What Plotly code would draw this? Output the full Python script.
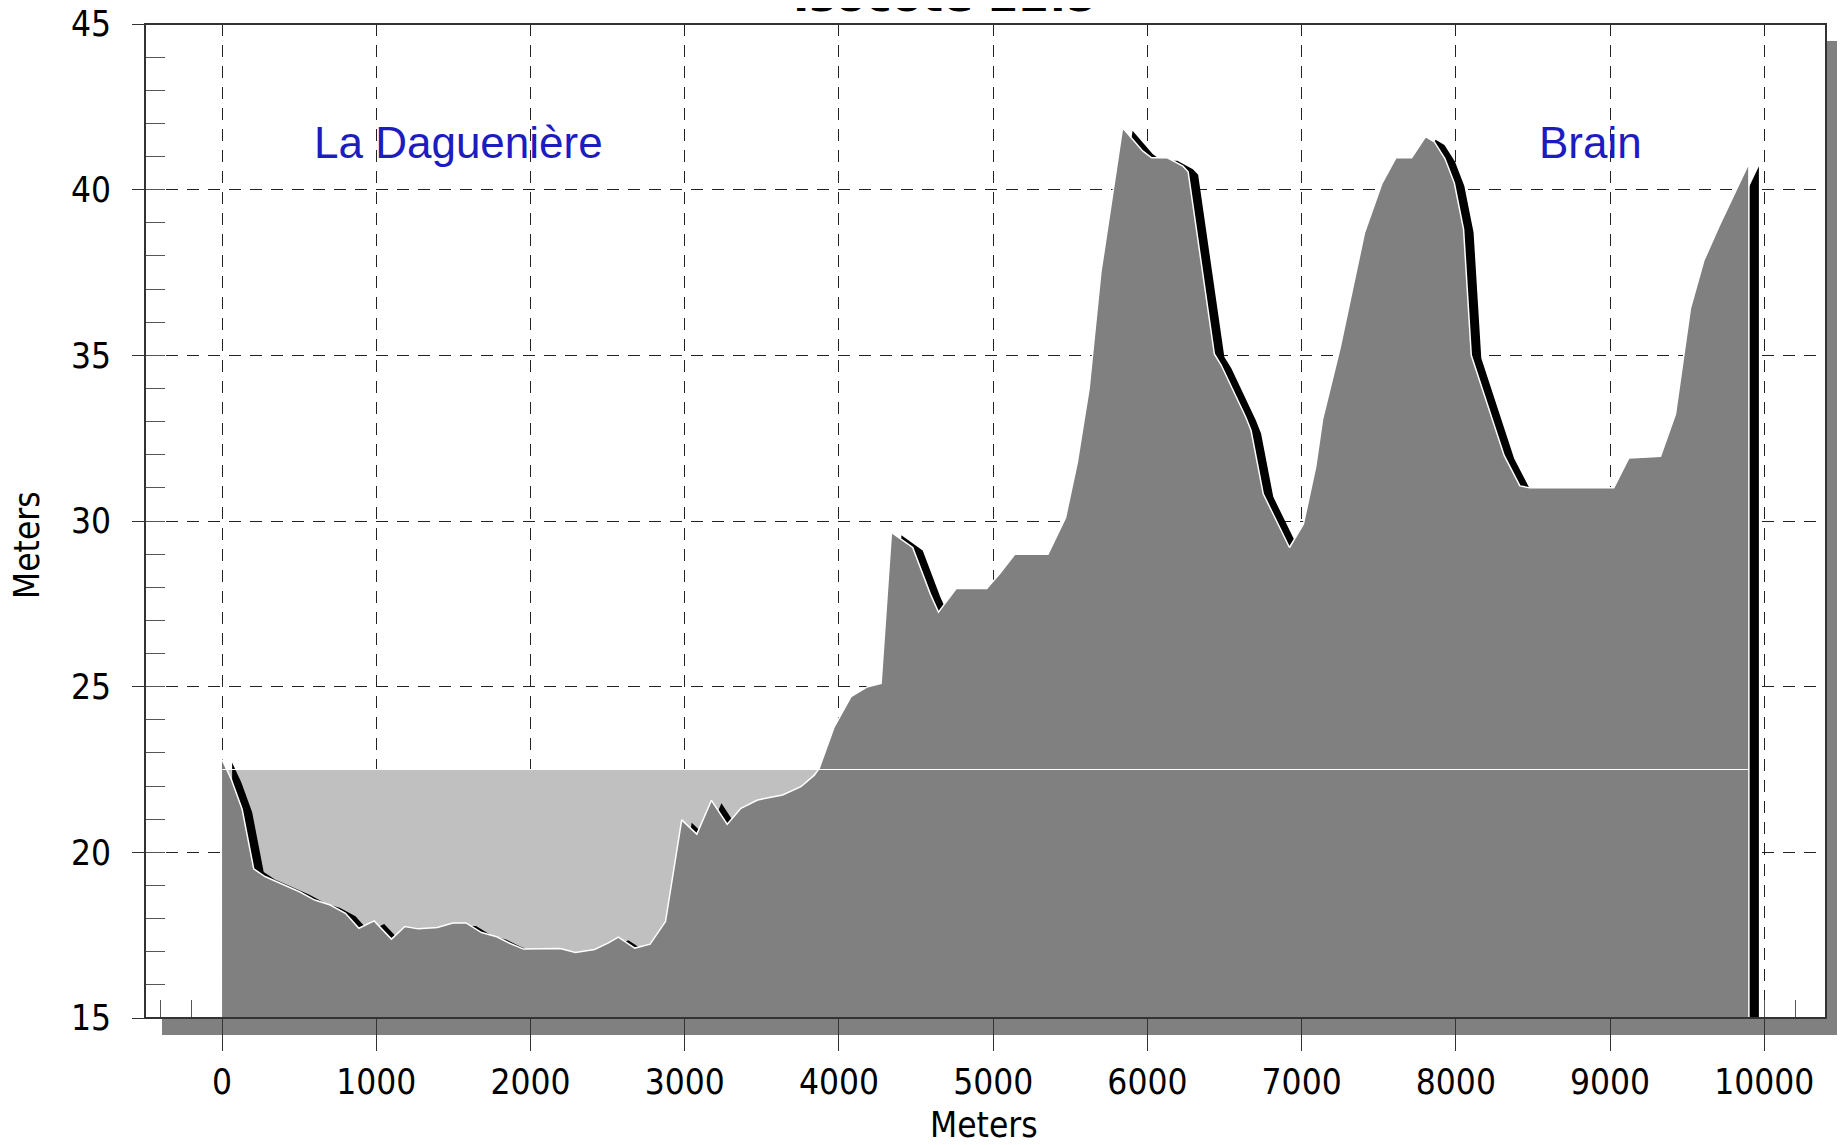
import plotly.graph_objects as go

# profile (distance in m, elevation in m)
distance = [0, 60, 130, 205, 278, 377, 502, 601, 701, 800, 887, 986, 1098, 1185, 1272,
            1396, 1496, 1582, 1682, 1781, 1868, 1955, 2092, 2192, 2291, 2415, 2502, 2569,
            2676, 2775, 2875, 2980, 3078, 3173, 3275, 3364, 3472, 3634, 3753, 3840, 3872,
            3969, 4078, 4186, 4273, 4311, 4340, 4478, 4592, 4645, 4760, 4958, 5040, 5141,
            5355, 5469, 5545, 5622, 5698, 5774, 5839, 5969, 6027, 6129, 6230, 6264, 6434,
            6479, 6638, 6672, 6751, 6921, 7011, 7091, 7136, 7249, 7407, 7521, 7611, 7713,
            7804, 7861, 7929, 7990, 8050, 8100, 8200, 8313, 8415, 8480, 9024, 9121, 9327,
            9424, 9521, 9608, 9706, 9900]
elevation = [22.8, 22.2, 21.3, 19.5, 19.27, 19.07, 18.81, 18.56, 18.41, 18.16, 17.71, 17.93,
             17.38, 17.76, 17.69, 17.73, 17.87, 17.87, 17.58, 17.45, 17.25, 17.08, 17.08,
             17.10, 16.98, 17.07, 17.26, 17.44, 17.11, 17.23, 17.91, 20.98, 20.55, 21.57,
             20.85, 21.33, 21.58, 21.73, 21.98, 22.33, 22.54, 23.79, 24.70, 25.0, 25.1, 27.6,
             29.66, 29.2, 27.8, 27.25, 27.96, 27.96, 28.4, 29.0, 29.0, 30.1, 31.76, 34.0,
             37.5, 39.85, 41.87, 41.17, 40.96, 40.96, 40.71, 40.54, 35.04, 34.70, 33.13,
             32.73, 30.82, 29.2, 29.9, 31.63, 33.08, 35.22, 38.69, 40.19, 40.96, 40.96, 41.60,
             41.44, 40.94, 40.2, 38.8, 35.0, 33.60, 31.98, 31.06, 31.0, 31.0, 31.9, 31.95,
             33.23, 36.42, 37.86, 38.89, 40.80]

water_level = 22.5
places = ["La Daguenière", "Brain"]
place_x = [1530, 8872]
place_y = [41.42, 41.42]

x_range = [-500, 10400]
y_range = [15, 45]

# the page body adds an 8px margin, so the figure is 8px smaller
W, H = 1837, 1137
ML, MR, MT, MB = 137, 19, 16, 127
PW, PH = W - ML - MR, H - MT - MB
PAGE = 8  # body margin


def px_x(x):
    # page pixel -> paper x
    return (x - PAGE - ML) / PW


def px_y(y):
    # page pixel -> paper y
    return (MT + PH - (y - PAGE)) / PH


# drop shadow offset of the 3d look (in data units)
shadow_dx = 10 * (x_range[1] - x_range[0]) / PW
shadow_dy = 3 * (y_range[1] - y_range[0]) / PH

tick_font = dict(family="DejaVu Sans Condensed, DejaVu Sans", size=35, color="black")

fig = go.Figure()

# water between the level and the ground
fig.add_trace(go.Scatter(
    x=[distance[0], distance[-1]], y=[water_level, water_level],
    fill="tozeroy", fillcolor="#c0c0c0", mode="lines", line=dict(width=0),
    hoverinfo="skip", showlegend=False,
))

# black shadow of the ground
fig.add_trace(go.Scatter(
    x=[d + shadow_dx for d in distance], y=[e - shadow_dy for e in elevation],
    fill="tozeroy", fillcolor="black", mode="lines", line=dict(width=0, color="black"),
    hoverinfo="skip", showlegend=False,
))

# ground
fig.add_trace(go.Scatter(
    x=distance + [distance[-1]], y=elevation + [y_range[0]],
    fill="tozeroy", fillcolor="#808080", mode="lines",
    line=dict(width=1.5, color="white"),
    hoverinfo="skip", showlegend=False,
))

# water level line
fig.add_trace(go.Scatter(
    x=[distance[0], distance[-1]], y=[water_level, water_level],
    mode="lines", line=dict(width=1, color="white"),
    hoverinfo="skip", showlegend=False,
))

for name, px, py in zip(places, place_x, place_y):
    fig.add_annotation(
        x=px, y=py, text=name, showarrow=False, xanchor="center", yanchor="middle",
        font=dict(family="Liberation Sans, Arial", size=44, color="#1c1cc0"),
    )

# clipped title at the very top
fig.add_annotation(
    xref="paper", yref="paper", x=px_x(945), y=px_y(23),
    text="<b>Isocote 22.5</b>", showarrow=False, xanchor="center", yanchor="bottom",
    font=dict(family="DejaVu Sans", size=44, color="black"),
)

# axis titles
fig.add_annotation(
    xref="paper", yref="paper", x=px_x(984), y=px_y(1125),
    text="Meters", showarrow=False, xanchor="center", yanchor="middle", font=tick_font,
)
fig.add_annotation(
    xref="paper", yref="paper", x=px_x(27), y=px_y(545),
    text="Meters", showarrow=False, textangle=-90, xanchor="center", yanchor="middle",
    font=tick_font,
)

# frame shadow, white plot area and frame
off_x, off_y = 17 / PW, 17 / PH
fig.add_shape(type="rect", xref="paper", yref="paper", x0=off_x, x1=1 + off_x,
              y0=-off_y, y1=1 - off_y, fillcolor="#808080", line_width=0, layer="below")
fig.add_shape(type="rect", xref="paper", yref="paper", x0=0, x1=1, y0=0, y1=1,
              fillcolor="white", line_width=0, layer="below")
fig.add_shape(type="rect", xref="paper", yref="paper", x0=0, x1=1, y0=0, y1=1,
              line=dict(color="#333333", width=2), layer="above")

grid = dict(showgrid=True, gridcolor="#222222", gridwidth=1, griddash="12px,9px",
            zeroline=False, showline=False, layer="below traces", tickfont=tick_font,
            automargin=False, tickformat="d", ticklabeloverflow="allow")

fig.update_xaxes(
    range=x_range, tick0=0, dtick=1000, ticks="outside", ticklen=32, tickcolor="#333",
    ticklabelstandoff=1,
    minor=dict(ticks="inside", dtick=200, ticklen=18, tickcolor="#555", showgrid=False),
    **grid,
)
fig.update_yaxes(
    range=y_range, tick0=15, dtick=5, ticks="outside", ticklen=12, tickcolor="#333",
    ticklabelstandoff=14,
    minor=dict(ticks="inside", dtick=1, ticklen=20, tickcolor="#555", showgrid=False),
    **grid,
)

fig.update_layout(
    width=W, height=H,
    margin=dict(l=ML, r=MR, t=MT, b=MB, autoexpand=False),
    paper_bgcolor="white", plot_bgcolor="rgba(0,0,0,0)",
    showlegend=False,
)

fig.write_html("out.html")
